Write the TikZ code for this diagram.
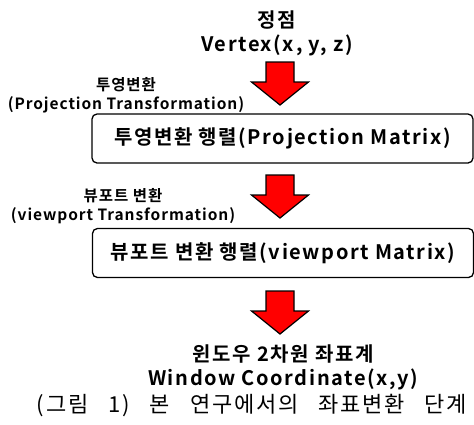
\documentclass[tikz,border=0pt]{standalone}
\usepackage{fontspec}
\setmainfont{Noto Sans CJK KR}[BoldFont={Noto Sans CJK KR Bold}]
\newfontfamily\captionfont{Noto Sans CJK KR}[LetterSpace=8,WordSpace=3]
\usetikzlibrary{positioning}

\begin{document}
\begin{tikzpicture}[x=1pt,y=-1pt,
	mbox/.style={draw,line width=1.3pt,rounded corners=5pt,minimum width=381pt,minimum height=49pt,inner sep=0pt,font=\bfseries\fontsize{20}{22}\selectfont\addfontfeatures{LetterSpace=8}},
	steplabel/.style={align=center,font=\bfseries\fontsize{15.5}{19}\selectfont\addfontfeatures{LetterSpace=6}},
	endlabel/.style={align=center,font=\bfseries\fontsize{20}{24}\selectfont\addfontfeatures{LetterSpace=8}},
	figcaption/.style={font=\captionfont\fontsize{22}{24}\selectfont},
	pics/bigarrow/.style={code={
		\draw[fill=red,line width=1.2pt,line join=miter] (-14,0) -- (14,0) -- (14,20) -- (28.5,20) -- (0,43) -- (-28.5,20) -- (-14,20) -- cycle;
	}}]
	%Page is 474 x 424, y counts downwards
	\useasboundingbox (0,0) rectangle (474,424);

	%Start: the vertex
	\node[endlabel] (vertex) at (277,33) {정점\\Vertex(x, y, z)};

	%Projection step
	\pic (arrow1) at (280,62) {bigarrow};
	\node[steplabel] (projlabel) at (126,95) {투영변환\\(Projection Transformation)};
	\node[mbox] (projbox) at (282.5,138.5) {투영변환 행렬(Projection Matrix)};

	%Viewport step
	\pic (arrow2) at (280,175) {bigarrow};
	\node[steplabel] (viewlabel) at (123,206.5) {뷰포트 변환\\(viewport Transformation)};
	\node[mbox] (viewbox) at (283,253) {뷰포트 변환 행렬(viewport Matrix)};

	%End: window coordinates
	\pic (arrow3) at (280,291) {bigarrow};
	\node[endlabel] (window) at (283,367) {윈도우 2차원 좌표계\\Window Coordinate(x,y)};

	\node[figcaption] (caption) at (252,406) {(그림 1) 본 연구에서의 좌표변환 단계};
\end{tikzpicture}
\end{document}
